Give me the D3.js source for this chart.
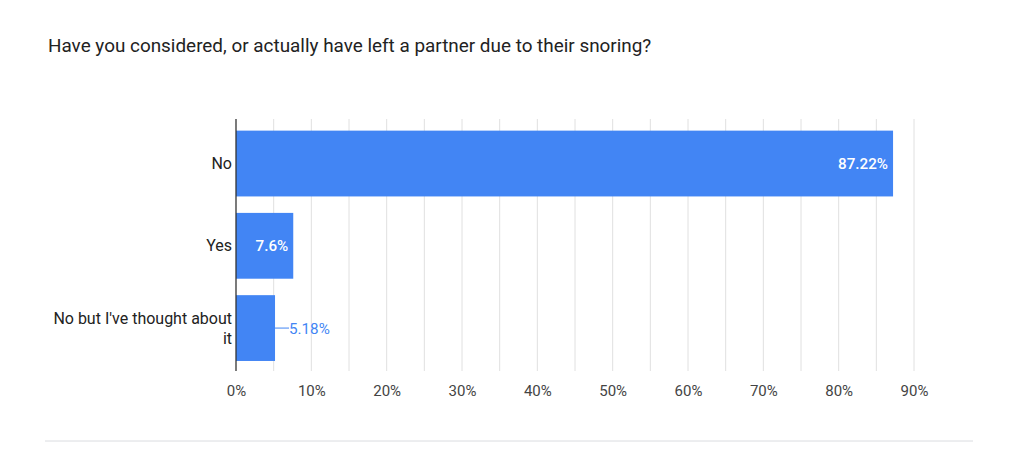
<!DOCTYPE html>
<html><head><meta charset="utf-8">
<script src="https://cdn.jsdelivr.net/npm/d3@7"></script>
<style>body{margin:0;background:#fff;font-family:Roboto,"Noto Sans",sans-serif;}</style>
</head><body><svg id="c" width="1024" height="453"></svg>
<script>
const title = "Have you considered, or actually have left a partner due to their snoring?";
const categories = ["No", "Yes", "No but I've thought about it"];
const categoryLines = [["No"], ["Yes"], ["No but I've thought about", "it"]];
const values = [87.22, 7.6, 5.18];
const valueLabels = ["87.22%", "7.6%", "5.18%"];
const tickValues = [0,10,20,30,40,50,60,70,80,90];
const gridValues = [5,10,15,20,25,30,35,40,45,50,55,60,65,70,75,80,85,90];

const svg = d3.select("#c");
const x = d3.scaleLinear().domain([0,90]).range([236,914]);
const y = d3.scaleBand().domain(categories).range([122.4,369.2]).paddingInner(0.2).paddingOuter(0.1);
const color = "#4285f4";

svg.append("text").attr("x",48).attr("y",52).attr("font-size",18.9).attr("fill","#222")
  .text(title);

// gridlines
svg.append("g").selectAll("line").data(gridValues).join("line")
  .attr("x1",d=>x(d)).attr("x2",d=>x(d)).attr("y1",119).attr("y2",371)
  .attr("stroke","#e0e0e0").attr("stroke-width",1);

// bars
svg.append("g").selectAll("rect").data(values).join("rect")
  .attr("x",x(0)).attr("y",(d,i)=>y(categories[i]))
  .attr("width",d=>x(d)-x(0)).attr("height",y.bandwidth())
  .attr("fill",color);

// axis line
svg.append("line").attr("x1",x(0)).attr("x2",x(0)).attr("y1",119).attr("y2",371)
  .attr("stroke","#333").attr("stroke-width",1.3);

// x axis
const xAxis = d3.axisBottom(x).tickValues(tickValues).tickFormat(d=>d+"%").tickSize(0).tickPadding(0);
const gx = svg.append("g").attr("transform","translate(0,396)").call(xAxis);
gx.select(".domain").remove();
gx.selectAll("text").attr("font-family","Roboto").attr("font-size",15).attr("fill","#444").attr("dy",0);

// category labels
categories.forEach((c,i)=>{
  const lines = categoryLines[i];
  const cy = y(c)+y.bandwidth()/2;
  const t = svg.append("text").attr("text-anchor","end").attr("font-size",16).attr("fill","#222");
  lines.forEach((l,j)=>{
    t.append("tspan").attr("x",232).attr("y",cy + 5.5 + (j-(lines.length-1)/2)*20).text(l);
  });
});

// value labels
values.forEach((v,i)=>{
  const cy = y(categories[i])+y.bandwidth()/2;
  const barW = x(v)-x(0);
  if (barW > 45) {
    svg.append("text").attr("x",x(v)-5).attr("y",cy+5.5).attr("text-anchor","end")
      .attr("font-size",15.2).attr("font-weight",500).attr("fill","#fff").text(valueLabels[i]);
  } else {
    svg.append("line").attr("x1",x(v)).attr("x2",x(v)+14).attr("y1",cy).attr("y2",cy)
      .attr("stroke",color).attr("stroke-width",1);
    svg.append("text").attr("x",x(v)+14).attr("y",cy+5.5).attr("font-size",15.2)
      .attr("fill",color).text(valueLabels[i]);
  }
});

// bottom separator
svg.append("line").attr("x1",45).attr("x2",973).attr("y1",441).attr("y2",441)
  .attr("stroke","#dadce0").attr("stroke-width",1);
</script></body></html>
